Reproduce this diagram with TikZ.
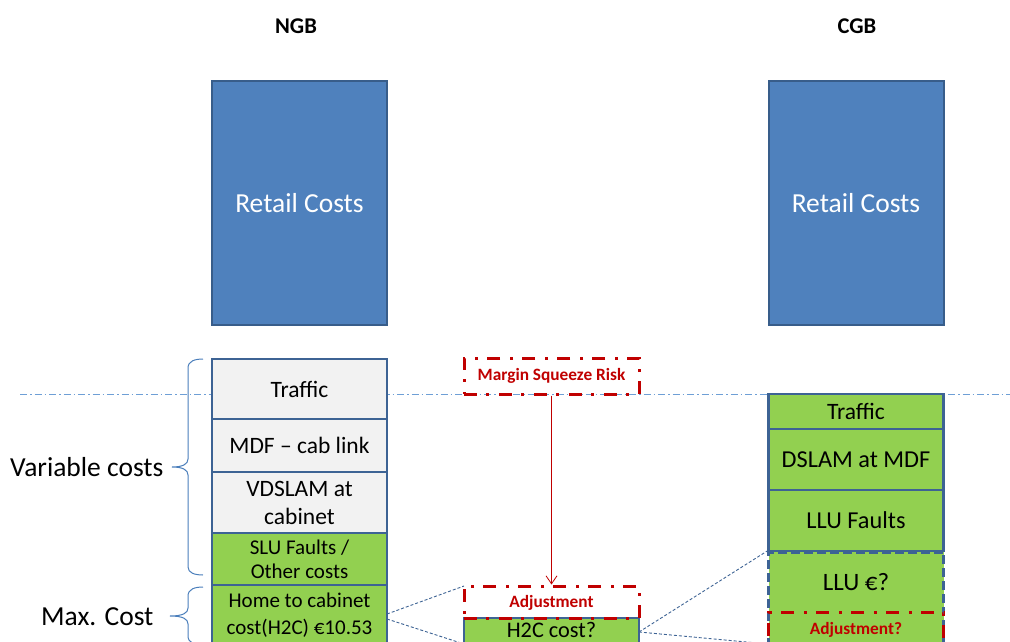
\documentclass[tikz,border=0pt]{standalone}
\usepackage{fontspec}
\setmainfont{Carlito}
\usetikzlibrary{arrows.meta}

\definecolor{retailfill}{HTML}{4F81BD}
\definecolor{retailedge}{HTML}{385D8A}
\definecolor{celledge}{HTML}{3D6394}
\definecolor{cellgrey}{HTML}{F2F2F2}
\definecolor{cellgreen}{HTML}{92D050}
\definecolor{risk}{HTML}{C00000}
\definecolor{bracecol}{HTML}{4A7EBB}
\definecolor{guidecol}{HTML}{6E9FD6}

\tikzset{
  heading/.style={font=\bfseries\fontsize{22.5}{26}\selectfont},
  retail/.style={draw=retailedge, line width=2pt, fill=retailfill, text=white,
    minimum width=175pt, minimum height=244pt, font=\fontsize{27.5}{30}\selectfont},
  cell/.style={draw=celledge, line width=2.6pt, minimum width=175pt, inner sep=0pt,
    align=center, font=\fontsize{23.5}{28}\selectfont},
  greycell/.style={cell, fill=cellgrey},
  greencell/.style={cell, fill=cellgreen},
  dashcell/.style={greencell, dash pattern=on 9pt off 4pt},
  riskbox/.style={draw=risk, line width=3pt, minimum width=175pt, inner sep=0pt,
    dash pattern=on 13pt off 9pt on 3pt off 10pt},
  risktext/.style={text=risk, font=\bfseries\fontsize{17.3}{20}\selectfont},
  bodytext/.style={font=\fontsize{25}{28}\selectfont, align=center},
  sidetext/.style={font=\fontsize{27.5}{30}\selectfont},
  link/.style={draw=celledge, line width=0.9pt, dash pattern=on 3pt off 2pt},
  brace/.style={draw=bracecol, line width=1pt},
}

\begin{document}
\begin{tikzpicture}[x=1pt, y=-1pt]
\path[use as bounding box] (0,0) rectangle (1010,642);
\clip (0,0) rectangle (1010,642);

% headings
\node[heading] (ngb) at (296,26) {NGB};
\node[heading] (cgb) at (857,26) {CGB};

% retail cost blocks
\node[retail] (rn) at (299.5,203) {Retail Costs};
\node[retail] (rc) at (856,203) {Retail Costs};

% dash-dot guide line through the stacks
\coordinate (gl) at (20,394);
\coordinate (gr) at (1010,394);
\draw[guidecol, line width=0.8pt, dash pattern=on 7pt off 3pt on 1.5pt off 3pt] (gl) -- (gr);

% NGB cost stack
\node[greycell, minimum height=60pt] (ntraffic) at (299.5,389) {Traffic};
\node[greycell, minimum height=53pt] (nmdf) at (299.5,445.5) {MDF -- cab link};
\node[greycell, minimum height=61pt, font=\fontsize{23.5}{28}\selectfont] (nvdslam) at (299.5,502.5) {VDSLAM at\\cabinet};
\node[greencell, minimum height=53pt, font=\fontsize{21}{24}\selectfont] (nslu) at (299.5,559.5) {SLU Faults /\\Other costs};
\node[greencell, minimum height=60pt, font=\fontsize{21}{27}\selectfont] (nh2c) at (299.5,615) {Home to cabinet\\cost(H2C) €10.53};

% braces and their labels
\draw[brace] (203,359) .. controls (195,359) and (188,361) .. (188,368)
  -- (188,459) .. controls (188,464) and (183,467) .. (172,467)
  .. controls (183,467) and (188,470) .. (188,475)
  -- (188,567) .. controls (188,573) and (195,575) .. (203,575);
\node[sidetext, anchor=east] (varlbl) at (167,467) {Variable costs};

\draw[brace] (203,587) .. controls (195,587) and (188,589) .. (188,596)
  -- (188,608) .. controls (188,613) and (183,616) .. (170,616)
  .. controls (183,616) and (188,619) .. (188,624)
  -- (188,636) .. controls (188,643) and (195,645) .. (203,645);
\node[sidetext, anchor=east] (maxlbl) at (157,617) {Max. Cost};

% connectors behind the middle boxes
\coordinate (nh2cup) at (387,614);
\coordinate (nh2clo) at (387,619);
\coordinate (h2cout) at (639,632);
\coordinate (llubot) at (768,644);
\draw[link] (nh2cup) -- (464,586);
\draw[link] (nh2clo) -- (464,644);

% middle column
\node[greencell, minimum height=28pt] (mh2c) at (551.5,632) {};
\node[bodytext, font=\fontsize{22.3}{26}\selectfont] (mh2ctxt) at (551.5,630) {H2C cost?};
\node[riskbox, minimum height=32pt] (adj) at (551.5,602) {};
\node[risktext] (adjtxt) at (551.5,603) {Adjustment};
\node[riskbox, minimum height=36pt, risktext] (msr) at (551.5,376) {Margin Squeeze Risk};
\draw[risk, line width=0.8pt, -{Straight Barb[length=8pt,width=11pt]}] (msr.south) -- (adj.north);

% CGB cost stack
\node[greencell, minimum height=35pt] (ctraffic) at (856,411.5) {Traffic};
\node[greencell, minimum height=61pt, font=\fontsize{24.3}{28}\selectfont] (cdslam) at (856,459.5) {DSLAM at MDF};
\node[greencell, minimum height=61pt, font=\fontsize{24.3}{28}\selectfont] (cllufaults) at (856,520.5) {LLU Faults};
\node[dashcell, minimum height=110pt, anchor=north] (cllu) at (856,551) {};
\node[bodytext] (cllutxt) at (856,582) {LLU €?};
\node[riskbox, minimum height=60pt, anchor=north] (cadj) at (856,611) {};
\node[risktext] (cadjtxt) at (856,630) {Adjustment?};

% connectors from the middle box to the LLU block
\draw[link] (h2cout) -- (cllu.north west);
\draw[link] (h2cout) -- (llubot);
\end{tikzpicture}
\end{document}
